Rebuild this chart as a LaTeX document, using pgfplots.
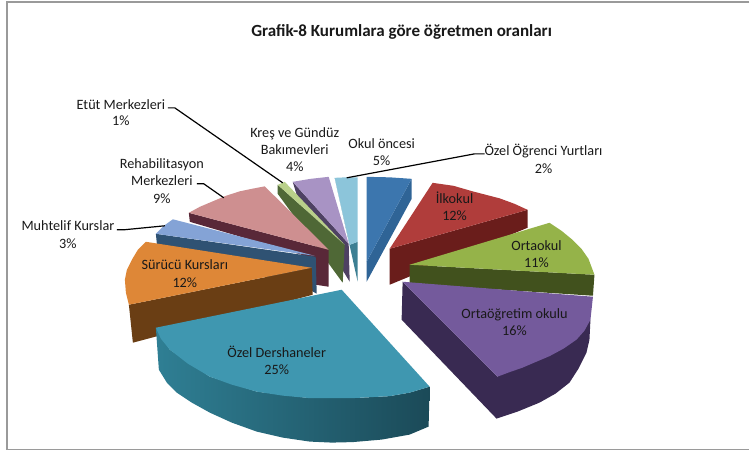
\documentclass[border=0pt]{standalone}
\usepackage{pgfplots}
\pgfplotsset{compat=1.18}
\usepackage{fontspec}
\setmainfont{Carlito}
\definecolor{bluetop}{HTML}{3C76AE}
\definecolor{blueside}{HTML}{2F6496}
\definecolor{ltop}{HTML}{8CC5DA}
\definecolor{lside}{HTML}{3D7F93}
\definecolor{kretop}{HTML}{A893C4}
\definecolor{kreside}{HTML}{4E4163}
\definecolor{etop}{HTML}{B9D08A}
\definecolor{eside}{HTML}{4F6836}
\definecolor{ptop}{HTML}{CE8F90}
\definecolor{pside}{HTML}{592838}
\definecolor{mtop}{HTML}{84A3D6}
\definecolor{mside}{HTML}{2F5273}
\definecolor{otop}{HTML}{DE8737}
\definecolor{oside}{HTML}{6A3E14}
\definecolor{rtop}{HTML}{B03D3B}
\definecolor{rside}{HTML}{6A1D1B}
\definecolor{gtop}{HTML}{95B349}
\definecolor{gside}{HTML}{41511D}
\definecolor{vtop}{HTML}{745A9C}
\definecolor{vside}{HTML}{392A52}
\definecolor{ttop}{HTML}{3F97B0}
\definecolor{tsideL}{HTML}{2F7F94}
\definecolor{tsideR}{HTML}{1B4A58}
\definecolor{frame}{HTML}{9A9A9A}
\pgfplotsset{poly/.style={draw=none,fill=#1,no markers,forget plot},
 leader/.style={draw=black,line width=1.2pt,no markers,forget plot}}
\tikzset{lbl/.style={anchor=base,inner sep=0pt,yshift=-2bp,font=\fontsize{14.3}{15}\selectfont,text=black!90}}
\begin{document}
\begin{tikzpicture}
\begin{axis}[scale only axis,width=750bp,height=452bp,xmin=0,xmax=750,ymin=0,ymax=452,y dir=reverse,
 axis lines=none,clip=false]
\path (axis cs:0,0) rectangle (axis cs:750,452);
% frame
\addplot[draw=frame,line width=1.4pt,no markers,forget plot] coordinates {(750,2)(7,2)(7,450)(750,450)};
% blue
\addplot[poly=blueside] coordinates {(412,179)(412,199)(367,282)(367,262)} --cycle;
\addplot[poly=bluetop] coordinates {(367,177)(390,177.5)(412,179)(367,262)} --cycle;
% light blue
\addplot[poly=lside] coordinates {(335,178)(350,245)(358,242)(358,282)} --cycle;
\addplot[poly=ltop] coordinates {(335,178)(346,177.5)(358,177.5)(358,242)(350,245)} --cycle;
% Kres
\addplot[poly=kreside] coordinates {(293,182)(297,195)(350,282)(349,244)} --cycle;
\addplot[poly=kretop] coordinates {(293,182)(311,179)(329,177)(349,244)} --cycle;
% Etut
\addplot[poly=eside] coordinates {(278,185)(278,194)(343,283)(345,245)} --cycle;
\addplot[poly=etop] coordinates {(278,185)(285,182)(345,245)} --cycle;
% Rehab
\addplot[poly=pside] coordinates {(189,213)(329,250)(329,287)(316,285)(312,258)(190,222)} --cycle;
\addplot[poly=ptop] coordinates {(189,213)(200,207)(213,201.5)(226,196)(240,191.5)(252,189)(265,186.5)(329,250)} --cycle;
% Muhtelif
\addplot[poly=mside] coordinates {(156,234)(316,257)(317,294)(310,290)(157,244)} --cycle;
\addplot[poly=mtop] coordinates {(156,234)(164,226)(173,219.5)(315,256)} --cycle;
% Orange
\addplot[poly=oside] coordinates {(129,305)(312,268)(313,295)(133,343)} --cycle;
\addplot[poly=otop] coordinates {(146,242)(138,250)(132,260)(127,270)(125,280)(126,293)(129,305)(312,268)} --cycle;
% Red
\addplot[poly=rside] coordinates {(390,249)(528,210)(528,228)(390,285)} --cycle;
\addplot[poly=rtop] coordinates {(390,249)(433,183)(454,186)(473,191.5)(500,198.5)(515,204)(528,210)} --cycle;
% Green
\addplot[poly=gside] coordinates {(410,265)(595,275)(593.5,296)(410,284)} --cycle;
\addplot[poly=gtop] coordinates {(410,265)(550,223)(562,231)(573,240)(582,249)(589,259)(595,275)} --cycle;
% Purple
\addplot[poly=vside] coordinates {(403,282)(498,377)(591,320)(590,340)(587,353)(579,369)(570,383)(556,394)(540,403)(518,412)(497,419)(402,320)} --cycle;
\addplot[poly=vtop] coordinates {(403,282)(593.5,297)(591,320)(585,331)(577,340)(564,349)(550,356.5)(537,362)(523,368)(510,372.5)(498,377)} --cycle;
% Teal
\addplot[draw=none,left color=tsideL,right color=tsideR,no markers,forget plot] coordinates {(156,328)(159,370)(167,383)(177,393)(192,403)(210,413)(232,423)(257,432)(283,438)(310,442)(332,443)(353,442.5)(382,440)(410,435)(429,427)(430,387)(410,393)(390,396.5)(353,398.5)(310,398.5)(257,392)(210,377)(170,350)} --cycle;
\addplot[poly=ttop] coordinates {(156,328)(342,290)(430,387)(410,393)(390,396.5)(353,398.5)(310,398.5)(283,396)(257,392)(232,385)(210,377)(188,364)(170,350)(161,339)} --cycle;
% leaders
\addplot[leader] coordinates {(168,108)(175,108)(283,183)};
\addplot[leader] coordinates {(197,184)(204,184)(224,198)};
\addplot[leader] coordinates {(117,230)(124,230)(165,226)};
\addplot[leader] coordinates {(485,154)(475,154)(347,178)};
% text
\node[lbl,font=\fontsize{17.1}{18}\bfseries\selectfont] at (axis cs:402,35) {Grafik-8 Kurumlara göre öğretmen oranları};
\node[lbl] at (axis cs:121,108) {Etüt Merkezleri};
\node[lbl] at (axis cs:121,124) {1\%};
\node[lbl] at (axis cs:295,136) {Kreş ve Gündüz};
\node[lbl] at (axis cs:295,153) {Bakımevleri};
\node[lbl] at (axis cs:295,170) {4\%};
\node[lbl] at (axis cs:382,147) {Okul öncesi};
\node[lbl] at (axis cs:382,164) {5\%};
\node[lbl] at (axis cs:544,154) {Özel Öğrenci Yurtları};
\node[lbl] at (axis cs:544,172) {2\%};
\node[lbl] at (axis cs:162,167) {Rehabilitasyon};
\node[lbl] at (axis cs:162,184) {Merkezleri};
\node[lbl] at (axis cs:162,202) {9\%};
\node[lbl] at (axis cs:68,229) {Muhtelif Kurslar};
\node[lbl] at (axis cs:68,247) {3\%};
\node[lbl] at (axis cs:455,202) {İlkokul};
\node[lbl] at (axis cs:455,219) {12\%};
\node[lbl] at (axis cs:537,249) {Ortaokul};
\node[lbl] at (axis cs:537,266) {11\%};
\node[lbl] at (axis cs:515,317) {Ortaöğretim okulu};
\node[lbl] at (axis cs:515,334) {16\%};
\node[lbl] at (axis cs:185,268) {Sürücü Kursları};
\node[lbl] at (axis cs:185,286) {12\%};
\node[lbl] at (axis cs:277,356) {Özel Dershaneler};
\node[lbl] at (axis cs:277,373) {25\%};
\end{axis}
\end{tikzpicture}
\end{document}
